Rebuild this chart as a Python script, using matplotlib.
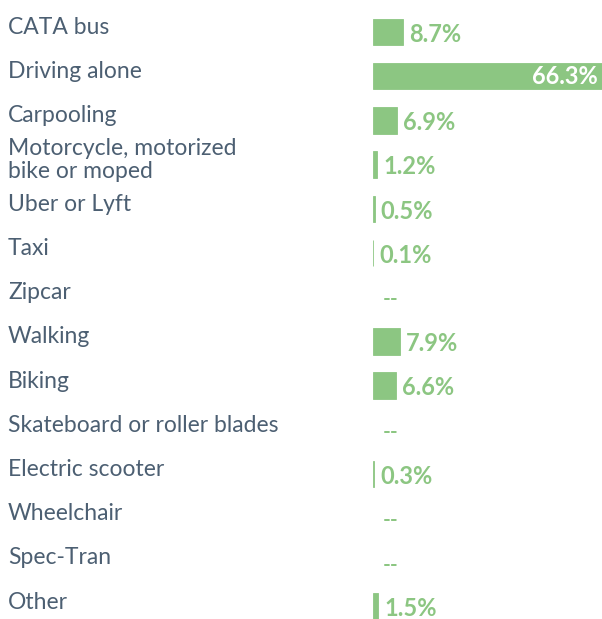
import numpy as np
import matplotlib
matplotlib.use("Agg")
import matplotlib.pyplot as plt
from matplotlib.transforms import blended_transform_factory

# Share of respondents by travel mode (None = no responses, shown as "--")
modes = [
    "CATA bus", "Driving alone", "Carpooling", "Motorcycle, motorized\nbike or moped",
    "Uber or Lyft", "Taxi", "Zipcar", "Walking", "Biking",
    "Skateboard or roller blades", "Electric scooter", "Wheelchair", "Spec-Tran", "Other",
]
shares = [8.7, 66.3, 6.9, 1.2, 0.5, 0.1, None, 7.9, 6.6, None, 0.3, None, None, 1.5]

GREEN = "#8cc682"
SLATE = "#4c5f72"
FONT = "Lato"

W, H = 602, 619
fig = plt.figure(figsize=(W / 100, H / 100), dpi=100)

# bars start at x=373px; the longest bar runs to the right edge
row_px = 44.2
top_px = 32 - row_px / 2
ax = fig.add_axes([373 / W, 1 - (top_px + row_px * len(modes)) / H,
                   1 - 373 / W, row_px * len(modes) / H])
ax.set_xlim(0, max(s for s in shares if s is not None))
ax.set_ylim(len(modes) - 0.5, -0.5)
ax.axis("off")

idx = [i for i, s in enumerate(shares) if s is not None]
ax.barh(idx, [shares[i] for i in idx], height=0.6, color=GREEN,
        edgecolor=GREEN, linewidth=0.6)

px = ax.get_xlim()[1] / (W - 373)  # data units per pixel
label_tf = blended_transform_factory(fig.transFigure, ax.transData)
for i, (name, s) in enumerate(zip(modes, shares)):
    # category label, left aligned near the figure edge, sitting a bit above the bar
    ax.text(8 / W, i - 0.1, name, transform=label_tf, ha="left", va="center",
            fontsize=16.5, color=SLATE, family=FONT, linespacing=1.15)
    if s is None:
        ax.text(10 * px, i + 0.05, "--", ha="left", va="center", fontsize=15,
                color=GREEN, family=FONT, fontweight="bold")
    elif s > 30:
        ax.text(s - 4 * px, i, f"{s:.1f}%", ha="right", va="center", fontsize=17,
                color="white", family=FONT, fontweight="bold")
    else:
        ax.text(s + 6 * px, i + 0.05, f"{s:.1f}%", ha="left", va="center", fontsize=17,
                color=GREEN, family=FONT, fontweight="bold")

fig.savefig("out.png", dpi=100)
